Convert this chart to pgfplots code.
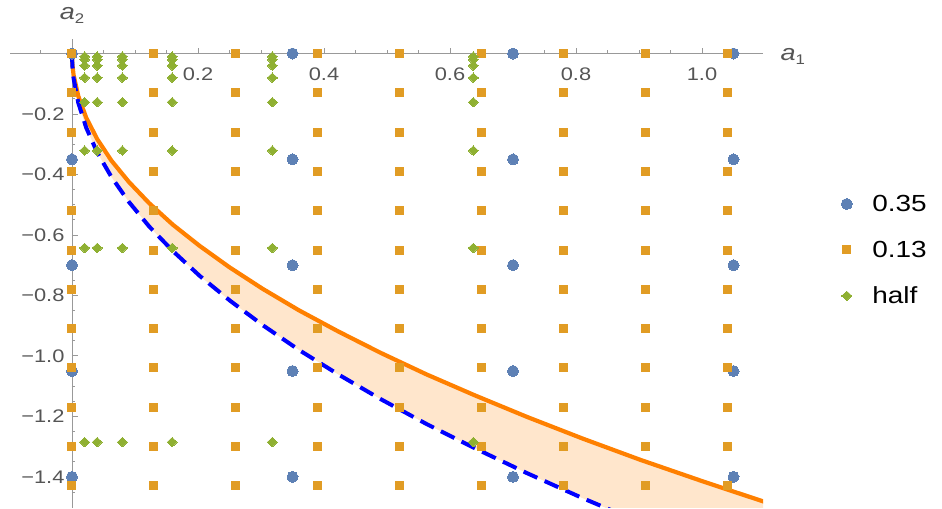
\documentclass[border=0pt]{standalone}
\usepackage{fontspec}
\setmainfont{Liberation Sans}[FakeStretch=1.2]
\usepackage{pgfplots}
\usepackage{pgfplotstable}
\pgfplotsset{compat=1.18}
\usepgfplotslibrary{fillbetween}

\definecolor{mblue}{HTML}{5E81B5}
\definecolor{morange}{HTML}{E19C24}
\definecolor{mgreen}{HTML}{8FB032}
\definecolor{curveorange}{HTML}{FF8000}
\definecolor{axgray}{HTML}{999999}
\definecolor{labgray}{HTML}{555555}

% upper bound (solid orange)
\pgfplotstableread{
x y
0 0
0.0006 -0.035
0.0025 -0.071
0.01 -0.141
0.0225 -0.212
0.04 -0.283
0.0625 -0.354
0.09 -0.424
0.1225 -0.495
0.16 -0.566
0.2025 -0.636
0.25 -0.707
0.3025 -0.778
0.36 -0.849
0.4225 -0.919
0.49 -0.990
0.5625 -1.061
0.64 -1.131
0.7225 -1.202
0.81 -1.273
0.9025 -1.344
1.0 -1.414
1.1025 -1.485
}\upperdata

% lower bound (dashed blue)
\pgfplotstableread{
x y
0 0
0.0006 -0.041
0.0025 -0.082
0.01 -0.163
0.0225 -0.245
0.04 -0.327
0.0625 -0.408
0.09 -0.490
0.1225 -0.572
0.16 -0.653
0.2025 -0.735
0.25 -0.816
0.3025 -0.898
0.36 -0.980
0.4225 -1.061
0.49 -1.143
0.5625 -1.225
0.64 -1.306
0.7225 -1.388
0.81 -1.470
0.9025 -1.551
1.0 -1.633
1.1025 -1.715
}\lowerdata

\newcommand{\sub}[1]{\raisebox{-4.5pt}{\fontsize{14}{14}\selectfont #1}}

\begin{document}
\begin{tikzpicture}
\path (0,0) rectangle (942pt,508pt);
\begin{axis}[
  at={(10pt,0pt)}, anchor=south west,
  scale only axis, width=753pt, height=469pt,
  xmin=-0.0984, xmax=1.0968, ymin=-1.503, ymax=0.048,
  axis lines=middle,
  axis line style={-, axgray, line width=0.8pt},
  xtick={0.2,0.4,0.6,0.8,1.0}, xticklabels={0.2,0.4,0.6,0.8,1.0},
  minor xtick={-0.05,0,0.05,0.1,0.15,0.25,0.3,0.35,0.45,0.5,0.55,0.65,0.7,0.75,0.85,0.9,0.95,1.05},
  ytick={-1.4,-1.2,-1.0,-0.8,-0.6,-0.4,-0.2},
  yticklabels={−1.4,−1.2,−1.0,−0.8,−0.6,−0.4,−0.2},
  minor ytick={-1.45,-1.35,-1.3,-1.25,-1.15,-1.1,-1.05,-0.95,-0.9,-0.85,-0.75,-0.7,-0.65,-0.55,-0.5,-0.45,-0.35,-0.3,-0.25,-0.15,-0.1,-0.05},
  tick align=inside,
  major tick length=6pt, minor tick length=3.5pt,
  tick style={axgray, line width=0.8pt},
  ticklabel style={font=\fontsize{18.2}{22}\selectfont, text=labgray},
  xticklabel style={yshift=-11pt},
  yticklabel style={xshift=-4pt},
  xlabel={\textit{a}\sub{1}}, ylabel={\textit{a}\sub{2}},
  label style={font=\fontsize{22.5}{26}\selectfont, text=labgray},
  xlabel style={at={(axis description cs:1,0.969)}, anchor=west, xshift=14pt, yshift=-3pt},
  ylabel style={at={(axis description cs:0.0823,1)}, anchor=south, yshift=11.5pt},
  legend style={at={(axis description cs:1.0997,0.55)}, anchor=west,
    draw=none, fill=none, font=\fontsize{23.3}{27}\selectfont, row sep=24pt,
    /tikz/every odd column/.append style={column sep=18pt}},
  legend cell align=left,
]
\addplot[only marks, color=mblue, mark=*, mark size=5.5pt, mark options={line width=0pt}]
  coordinates {
  (0,0) (0,-0.35) (0,-0.7) (0,-1.05) (0,-1.4)
  (0.35,0) (0.35,-0.35) (0.35,-0.7) (0.35,-1.05) (0.35,-1.4)
  (0.7,0) (0.7,-0.35) (0.7,-0.7) (0.7,-1.05) (0.7,-1.4)
  (1.05,0) (1.05,-0.35) (1.05,-0.7) (1.05,-1.05) (1.05,-1.4)
  };
\addplot[only marks, color=morange, mark=square*, mark size=4pt, mark options={line width=0pt}]
  coordinates {
  (0,0) (0,-0.13) (0,-0.26) (0,-0.39) (0,-0.52) (0,-0.65) (0,-0.78) (0,-0.91) (0,-1.04) (0,-1.17) (0,-1.3) (0,-1.43)
  (0.13,0) (0.13,-0.13) (0.13,-0.26) (0.13,-0.39) (0.13,-0.52) (0.13,-0.65) (0.13,-0.78) (0.13,-0.91) (0.13,-1.04) (0.13,-1.17) (0.13,-1.3) (0.13,-1.43)
  (0.26,0) (0.26,-0.13) (0.26,-0.26) (0.26,-0.39) (0.26,-0.52) (0.26,-0.65) (0.26,-0.78) (0.26,-0.91) (0.26,-1.04) (0.26,-1.17) (0.26,-1.3) (0.26,-1.43)
  (0.39,0) (0.39,-0.13) (0.39,-0.26) (0.39,-0.39) (0.39,-0.52) (0.39,-0.65) (0.39,-0.78) (0.39,-0.91) (0.39,-1.04) (0.39,-1.17) (0.39,-1.3) (0.39,-1.43)
  (0.52,0) (0.52,-0.13) (0.52,-0.26) (0.52,-0.39) (0.52,-0.52) (0.52,-0.65) (0.52,-0.78) (0.52,-0.91) (0.52,-1.04) (0.52,-1.17) (0.52,-1.3) (0.52,-1.43)
  (0.65,0) (0.65,-0.13) (0.65,-0.26) (0.65,-0.39) (0.65,-0.52) (0.65,-0.65) (0.65,-0.78) (0.65,-0.91) (0.65,-1.04) (0.65,-1.17) (0.65,-1.3) (0.65,-1.43)
  (0.78,0) (0.78,-0.13) (0.78,-0.26) (0.78,-0.39) (0.78,-0.52) (0.78,-0.65) (0.78,-0.78) (0.78,-0.91) (0.78,-1.04) (0.78,-1.17) (0.78,-1.3) (0.78,-1.43)
  (0.91,0) (0.91,-0.13) (0.91,-0.26) (0.91,-0.39) (0.91,-0.52) (0.91,-0.65) (0.91,-0.78) (0.91,-0.91) (0.91,-1.04) (0.91,-1.17) (0.91,-1.3) (0.91,-1.43)
  (1.04,0) (1.04,-0.13) (1.04,-0.26) (1.04,-0.39) (1.04,-0.52) (1.04,-0.65) (1.04,-0.78) (1.04,-0.91) (1.04,-1.04) (1.04,-1.17) (1.04,-1.3) (1.04,-1.43)
  };
\addplot[only marks, color=mgreen, mark=diamond*, mark size=4.7pt, mark options={line width=0pt, xscale=1.42}]
  coordinates {
  (0.020,-0.010) (0.020,-0.020) (0.020,-0.040) (0.020,-0.080) (0.020,-0.161) (0.020,-0.321) (0.020,-0.643) (0.020,-1.285)
  (0.040,-0.010) (0.040,-0.020) (0.040,-0.040) (0.040,-0.080) (0.040,-0.161) (0.040,-0.321) (0.040,-0.643) (0.040,-1.285)
  (0.080,-0.010) (0.080,-0.020) (0.080,-0.040) (0.080,-0.080) (0.080,-0.161) (0.080,-0.321) (0.080,-0.643) (0.080,-1.285)
  (0.159,-0.010) (0.159,-0.020) (0.159,-0.040) (0.159,-0.080) (0.159,-0.161) (0.159,-0.321) (0.159,-0.643) (0.159,-1.285)
  (0.318,-0.010) (0.318,-0.020) (0.318,-0.040) (0.318,-0.080) (0.318,-0.161) (0.318,-0.321) (0.318,-0.643) (0.318,-1.285)
  (0.637,-0.010) (0.637,-0.020) (0.637,-0.040) (0.637,-0.080) (0.637,-0.161) (0.637,-0.321) (0.637,-0.643) (0.637,-1.285)
  };
\legend{0.35,0.13,half}

\addplot[draw=none, name path=up, forget plot] table {\upperdata};
\addplot[draw=none, name path=lo, forget plot] table {\lowerdata};
\addplot[fill=curveorange, fill opacity=0.2, draw=none, forget plot] fill between[of=up and lo];
\addplot[curveorange, line width=4.2pt, forget plot] table {\upperdata};
\addplot[blue, line width=4pt, dash pattern=on 15pt off 8pt, forget plot] table {\lowerdata};
\end{axis}
\end{tikzpicture}
\end{document}
